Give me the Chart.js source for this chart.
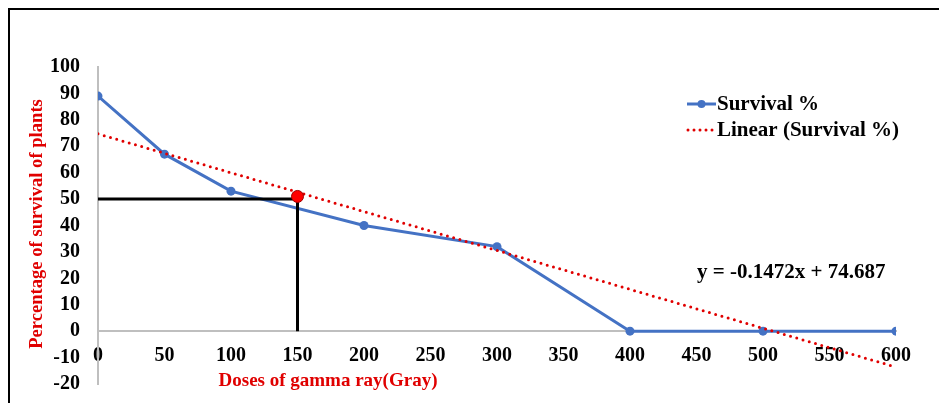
<!DOCTYPE html>
<html>
<head>
<meta charset="utf-8">
<script src="https://cdn.jsdelivr.net/npm/chart.js@4.4.1/dist/chart.umd.min.js"></script>
<style>
  body { margin: 0; background: #fff; }
  #wrap { position: relative; width: 939px; height: 403px; }
</style>
</head>
<body>
<div id="wrap"><canvas id="chart"></canvas></div>
<script>
// survival of plants against gamma ray dose
const doses = [0, 50, 100, 200, 300, 400, 500, 600];
const survival = [89, 67, 53, 40, 32, 0, 0, 0];

// linear trend line ends (y = -0.1472x + 74.687)
const trendDoses = [0, 600];
const trendValues = [74.7, -13.6];

// LD50 point and its guide lines
const ld50Dose = [150];
const ld50Value = [51];
const guideH = { x: [0, 150], y: [50, 50] };
const guideV = { x: [150, 150], y: [50, 0] };

const yTicks = { min: -20, max: 100, step: 10 };
const xTicks = { min: 0, max: 600, step: 50 };

const legendLabels = ["Survival %", "Linear (Survival %)"];
const equationText = "y = -0.1472x + 74.687";
const yTitle = "Percentage of survival of plants";
const xTitle = "Doses of gamma ray(Gray)";

const serif = "'Liberation Serif', 'Times New Roman', serif";
const BLUE = "#4472C4";
const RED = "#E00000";

function pts(xs, ys) {
  return xs.map((x, i) => ({ x: x, y: ys[i] }));
}

const decorations = {
  id: "decorations",
  beforeDraw(chart) {
    const ctx = chart.ctx;
    ctx.save();
    ctx.fillStyle = "#fff";
    ctx.fillRect(0, 0, chart.width, chart.height);
    // frame
    ctx.strokeStyle = "#000";
    ctx.lineWidth = 2;
    ctx.beginPath();
    ctx.moveTo(9, chart.height);
    ctx.lineTo(9, 9);
    ctx.lineTo(chart.width, 9);
    ctx.stroke();
    ctx.restore();
  },
  afterDraw(chart) {
    const ctx = chart.ctx;
    ctx.save();
    ctx.font = "bold 19px " + serif;
    ctx.fillStyle = RED;
    ctx.textAlign = "center";
    ctx.textBaseline = "middle";
    ctx.fillText(xTitle, 328, 381);
    ctx.font = "bold 18.6px " + serif;
    ctx.translate(37, 224);
    ctx.rotate(-Math.PI / 2);
    ctx.fillText(yTitle, 0, 0);
    ctx.restore();

    // legend
    ctx.save();
    ctx.font = "bold 21px " + serif;
    ctx.textBaseline = "middle";
    ctx.textAlign = "left";
    ctx.strokeStyle = BLUE;
    ctx.lineWidth = 3;
    ctx.beginPath();
    ctx.moveTo(687, 104);
    ctx.lineTo(716, 104);
    ctx.stroke();
    ctx.fillStyle = BLUE;
    ctx.beginPath();
    ctx.arc(701.5, 104, 4, 0, Math.PI * 2);
    ctx.fill();
    ctx.strokeStyle = RED;
    ctx.lineCap = "round";
    ctx.setLineDash([0, 6]);
    ctx.beginPath();
    ctx.moveTo(688, 130);
    ctx.lineTo(716, 130);
    ctx.stroke();
    ctx.setLineDash([]);
    ctx.fillStyle = "#000";
    ctx.fillText(legendLabels[0], 717, 105);
    ctx.fillText(legendLabels[1], 717, 131);
    ctx.fillText(equationText, 697, 273);
    ctx.restore();
  }
};

new Chart(document.getElementById("chart"), {
  type: "line",
  data: {
    datasets: [
      {
        label: "LD50",
        data: pts(ld50Dose, ld50Value),
        showLine: false,
        pointRadius: 6,
        pointBackgroundColor: "#FF0000",
        pointBorderColor: "#A00000",
        pointBorderWidth: 1
      },
      {
        label: "h",
        data: pts(guideH.x, guideH.y),
        borderColor: "#000",
        borderWidth: 3,
        pointRadius: 0
      },
      {
        label: "v",
        data: pts(guideV.x, guideV.y),
        borderColor: "#000",
        borderWidth: 3,
        pointRadius: 0
      },
      {
        label: legendLabels[1],
        data: pts(trendDoses, trendValues),
        borderColor: RED,
        borderWidth: 3,
        borderDash: [0, 6.5],
        borderCapStyle: "round",
        pointRadius: 0
      },
      {
        label: legendLabels[0],
        data: pts(doses, survival),
        borderColor: BLUE,
        backgroundColor: BLUE,
        borderWidth: 3,
        pointRadius: 4.5,
        pointBackgroundColor: BLUE,
        pointBorderWidth: 0
      }
    ]
  },
  options: {
    responsive: true,
    maintainAspectRatio: false,
    animation: false,
    layout: { padding: { left: 0, top: 67, right: 43, bottom: 19 } },
    plugins: {
      legend: { display: false },
      tooltip: { enabled: false }
    },
    scales: {
      x: {
        type: "linear",
        position: { y: 0 },
        min: xTicks.min,
        max: xTicks.max,
        grid: { display: false, drawTicks: false },
        border: { display: true, color: "#BFBFBF", width: 2 },
        ticks: {
          stepSize: xTicks.step,
          autoSkip: false,
          maxRotation: 0,
          padding: 13,
          color: "#000",
          font: { family: serif, size: 20, weight: "bold" }
        },
        afterFit(s) { s.height = 0; }
      },
      y: {
        min: yTicks.min,
        max: yTicks.max,
        grid: { display: false, drawTicks: false },
        border: { display: true, color: "#BFBFBF", width: 2 },
        ticks: {
          stepSize: yTicks.step,
          autoSkip: false,
          padding: 18,
          color: "#000",
          font: { family: serif, size: 20, weight: "bold" }
        },
        afterFit(s) {
          s.width = 98;
          s.paddingTop = 0;
          s.paddingBottom = 0;
        }
      }
    }
  },
  plugins: [decorations]
});
</script>
</body>
</html>
